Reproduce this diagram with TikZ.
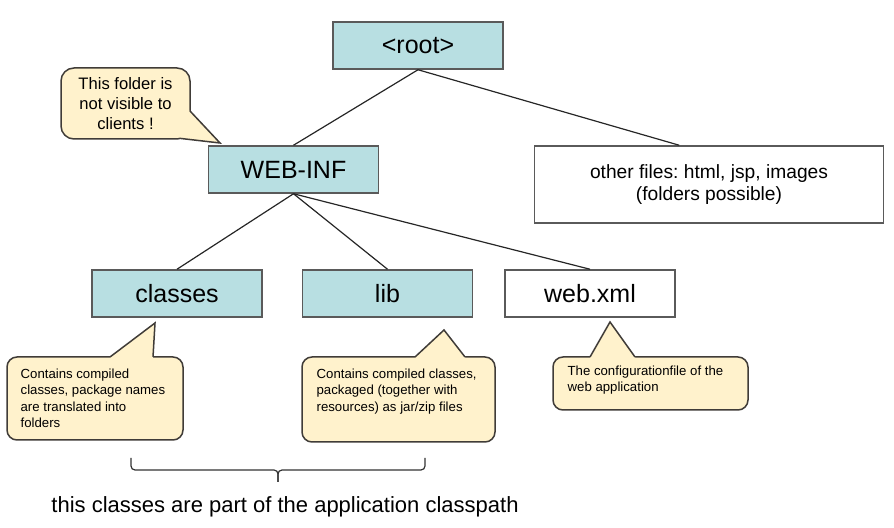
\documentclass[tikz,border=0pt]{standalone}
\usepackage{fontspec}
\setmainfont{Liberation Sans}
\frenchspacing
\definecolor{dirfill}{RGB}{184, 223, 226}
\definecolor{notefill}{RGB}{255, 242, 204}
\definecolor{noteline}{RGB}{64, 60, 56}
\definecolor{boxline}{RGB}{90, 90, 90}
\usetikzlibrary{positioning, calc}

\begin{document}
\begin{tikzpicture}[
    x=0.5pt, y=-0.5pt,
    dirbox/.style={draw=boxline, fill=dirfill, line width=0.75pt,
                   minimum width=85pt, minimum height=23.5pt, inner sep=0pt,
                   font=\fontsize{12.5}{15}\selectfont},
    filebox/.style={dirbox, fill=white},
    notebox/.style={draw=noteline, fill=notefill, line width=0.75pt,
                    rounded corners=5pt, inner sep=0pt},
    notetext/.style={font=\fontsize{6.6}{8.25}\selectfont, align=left, inner sep=0pt},
    link/.style={draw=black!85, line width=0.6pt},
    tipline/.style={draw=noteline, line width=0.75pt},
    bracket/.style={draw=black!80, line width=0.6pt, rounded corners=2pt}
  ]
  \useasboundingbox (0,0) rectangle (894,528);

  % directory tree
  \node[dirbox] (root) at (418,45.5) {<root>};
  \node[dirbox] (webinf) at (293.5,169.5) {WEB-INF};
  \node[filebox, minimum width=174.5pt, minimum height=38.5pt, align=center,
        font=\fontsize{9.6}{11}\selectfont] (other) at (709,184.5)
      {other files: html, jsp, images\\(folders possible)};
  \node[dirbox] (classes) at (177,293.5) {classes};
  \node[dirbox, right=19.5pt of classes] (lib) {lib};
  \node[filebox, right=15.5pt of lib] (webxml) {web.xml};

  \draw[link] (root.south) -- (webinf.north);
  \draw[link] (root.south) -- ($(other.north west)!0.415!(other.north east)$);
  \foreach \n in {classes, lib, webxml}
    \draw[link] (webinf.south) -- (\n.north);

  % callout next to WEB-INF
  \node[notebox, rounded corners=6.5pt, minimum width=64.5pt, minimum height=35.5pt,
        align=center, font=\fontsize{8.3}{10}\selectfont] (hidden) at (125.5,103.5)
      {This folder is\\not visible to\\clients !};
  \coordinate (hidden-a) at (190,111);
  \coordinate (hidden-tip) at (220,143);
  \coordinate (hidden-b) at (181,138.5);
  \fill[notefill] ($(hidden-a)+(-3,0)$) -- (hidden-a) -- (hidden-tip) -- (hidden-b)
    -- ($(hidden-b)+(-1,-3)$) -- cycle;
  \draw[tipline] (hidden-a) -- (hidden-tip) -- (hidden-b);

  % callouts below the bottom row
  \node[notebox, minimum width=88pt, minimum height=41.5pt] (classnote) at (95,398.5) {};
  \node[notetext, anchor=north west] (classtext) at ([shift={(14,12)}]classnote.north west)
      {Contains compiled\\classes, package names\\are translated into\\folders};
  \node[notebox, minimum width=96.5pt, minimum height=42.5pt] (libnote) at (398.5,399.5) {};
  \node[notetext, anchor=north west] (libtext) at ([shift={(15,12)}]libnote.north west)
      {Contains compiled classes,\\packaged (together with\\resources) as jar/zip files};
  \node[notebox, minimum width=97.5pt, minimum height=26.5pt] (xmlnote) at (650.5,383.5) {};
  \node[notetext, anchor=north west] (xmltext) at ([shift={(15,9)}]xmlnote.north west)
      {The configurationfile of the\\web application};

  \coordinate (class-a) at (110,357);
  \coordinate (class-tip) at (155,323);
  \coordinate (class-b) at (153,357);
  \coordinate (lib-a) at (415,357);
  \coordinate (lib-tip) at (444,330);
  \coordinate (lib-b) at (465,357);
  \coordinate (xml-a) at (590,357);
  \coordinate (xml-tip) at (610,322);
  \coordinate (xml-b) at (635,357);
  \foreach \n in {class, lib, xml} {
    \fill[notefill] ($(\n-a)+(0,3)$) -- (\n-a) -- (\n-tip) -- (\n-b) -- ($(\n-b)+(0,3)$) -- cycle;
    \draw[tipline] (\n-a) -- (\n-tip) -- (\n-b);
  }

  % brace over classes and lib
  \coordinate (brace-l) at (131,458);
  \coordinate (brace-r) at (425,458);
  \coordinate (brace-m) at (278,470);
  \coordinate (brace-t) at (278,482);
  \draw[bracket] (brace-l) |- (brace-m) -- (brace-t);
  \draw[bracket] (brace-r) |- (brace-m) -- (brace-t);
  \node[font=\fontsize{11}{13}\selectfont] (classpath) at (285,507)
      {this classes are part of the application classpath};
\end{tikzpicture}
\end{document}
